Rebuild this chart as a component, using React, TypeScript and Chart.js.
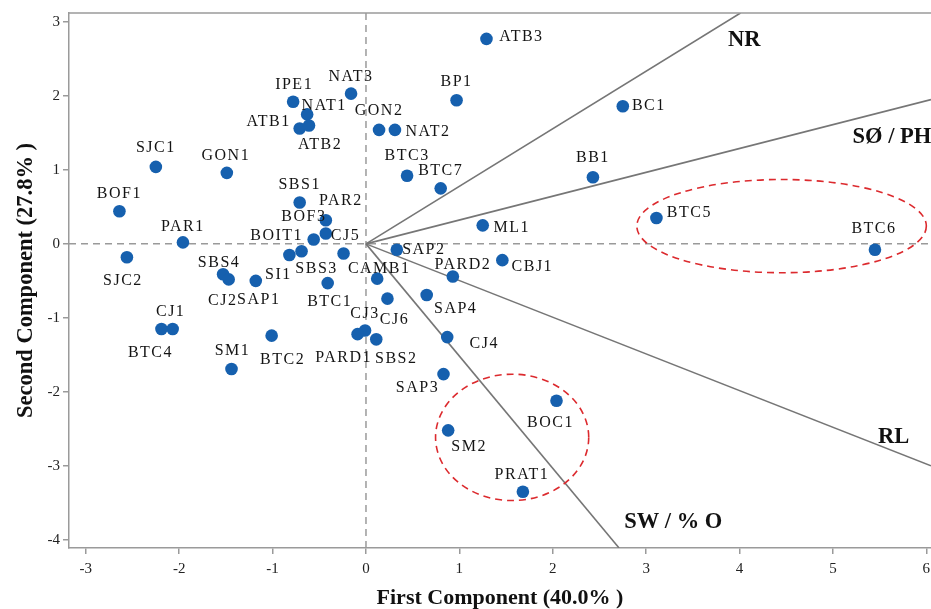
import React, { useEffect, useRef } from "react";
import { Chart, registerables } from "chart.js";

Chart.register(...registerables);

// ---------- data ----------
const SAMPLE_NAMES = [
  "ATB3", "IPE1", "NAT3", "BP1", "NAT1", "BC1", "ATB1", "ATB2", "GON2", "NAT2",
  "SJC1", "GON1", "BTC3", "BTC7", "BB1", "BOF1", "SBS1", "PAR2", "BOF3", "CJ5",
  "BOIT1", "SBS3", "SI1", "SAP1", "SBS4", "CJ2", "BTC5", "BTC6", "PAR1", "ML1",
  "SAP2", "SJC2", "CAMB1", "PARD2", "CBJ1", "BTC1", "SAP4", "CJ1", "BTC4", "CJ3",
  "PARD1", "CJ6", "SM1", "BTC2", "SBS2", "CJ4", "SAP3", "BOC1", "SM2", "PRAT1",
];
const PC1 = [
  1.29, -0.78, -0.16, 0.97, -0.63, 2.75, -0.71, -0.61, 0.14, 0.31,
  -2.25, -1.49, 0.44, 0.8, 2.43, -2.64, -0.71, -0.43, -0.43, -0.24,
  -0.56, -0.69, -0.82, -1.18, -1.53, -1.47, 3.11, 5.45, -1.96, 1.25,
  0.33, -2.56, 0.12, 0.93, 1.46, -0.41, 0.65, -2.07, -2.19, -0.01,
  -0.09, 0.23, -1.44, -1.01, 0.11, 0.87, 0.83, 2.04, 0.88, 1.68,
];
const PC2 = [
  2.77, 1.92, 2.03, 1.94, 1.75, 1.86, 1.56, 1.6, 1.54, 1.54,
  1.04, 0.96, 0.92, 0.75, 0.9, 0.44, 0.56, 0.32, 0.14, -0.13,
  0.06, -0.1, -0.15, -0.5, -0.41, -0.48, 0.35, -0.08, 0.02, 0.25,
  -0.08, -0.18, -0.47, -0.44, -0.22, -0.53, -0.69, -1.15, -1.15, -1.17,
  -1.22, -0.74, -1.69, -1.24, -1.29, -1.26, -1.76, -2.12, -2.52, -3.35,
];

const X_TICKS = [-3, -2, -1, 0, 1, 2, 3, 4, 5, 6];
const Y_TICKS = [-4, -3, -2, -1, 0, 1, 2, 3];
const X_MIN = -3.18;
const X_MAX = 6.05;
const Y_MIN = -4.11;
const Y_MAX = 3.12;

const VECTOR_NAMES = ["NR", "SØ / PH", "RL", "SW / % O"];
const VECTOR_X = [4.01, 6.05, 6.05, 2.71];
const VECTOR_Y = [3.12, 1.95, -3.0, -4.11];

// group ellipses (centre and semi-axes, data units)
const GROUP_CX = [4.45, 1.565];
const GROUP_CY = [0.24, -2.615];
const GROUP_RX = [1.55, 0.82];
const GROUP_RY = [0.63, 0.854];

const X_TITLE = "First Component (40.0% )";
const Y_TITLE = "Second Component (27.8% )";

// ---------- layout (label placement) ----------
const LABEL_OFFSETS: Record<string, [number, number]> = {
  ATB3: [35, -2], IPE1: [1, -17], NAT3: [0, -17], BP1: [0, -19], NAT1: [17, -9],
  BC1: [26, 0], ATB1: [-31, -7], ATB2: [11, 19], GON2: [0, -19], NAT2: [33, 2],
  SJC1: [0, -19], GON1: [-1, -17], BTC3: [0, -20], BTC7: [0, -18], BB1: [0, -19],
  BOF1: [0, -18], SBS1: [0, -18], PAR2: [15, -19], BOF3: [-22, -17], CJ5: [2, -18],
  BOIT1: [-37, -4], SBS3: [15, 18], SI1: [-11, 20], SAP1: [3, 19], SBS4: [-4, -11],
  CJ2: [-6, 21], BTC5: [33, -5], BTC6: [-1, -21], PAR1: [0, -16], ML1: [29, 2],
  SAP2: [27, 0], SJC2: [-4, 24], CAMB1: [2, -10], PARD2: [10, -12], CBJ1: [30, 7],
  BTC1: [2, 19], SAP4: [29, 14], CJ1: [-2, -17], BTC4: [-11, 24], CJ3: [0, -17],
  PARD1: [-14, 24], CJ6: [7, 21], SM1: [1, -18], BTC2: [11, 24], SBS2: [20, 19],
  CJ4: [37, 7], SAP3: [-26, 14], BOC1: [-6, 22], SM2: [21, 16], PRAT1: [-1, -17],
};
// vector label anchors in data units, with alignment
const VECTOR_LABEL_POS: [number, number, CanvasTextAlign][] = [
  [4.05, 2.755, "center"],
  [5.21, 1.445, "left"],
  [5.65, -2.61, "center"],
  [3.29, -3.76, "center"],
];

const SERIF = '"Liberation Serif", "Times New Roman", serif';
const DOT_COLOR = "#1660ae";
const AXIS_COLOR = "#9a9a9a";

const overlayPlugin = {
  id: "overlay",
  afterDatasetsDraw(chart: any) {
    const { ctx, chartArea, scales } = chart;
    const xs = scales.x;
    const ys = scales.y;
    ctx.save();
    // ellipses
    ctx.beginPath();
    ctx.rect(chartArea.left, chartArea.top, chartArea.right - chartArea.left, chartArea.bottom - chartArea.top);
    ctx.clip();
    ctx.strokeStyle = "#dc2a2e";
    ctx.lineWidth = 1.6;
    ctx.setLineDash([7, 5]);
    for (let i = 0; i < GROUP_CX.length; i++) {
      const cx = xs.getPixelForValue(GROUP_CX[i]);
      const cy = ys.getPixelForValue(GROUP_CY[i]);
      const rx = Math.abs(xs.getPixelForValue(GROUP_CX[i] + GROUP_RX[i]) - cx);
      const ry = Math.abs(ys.getPixelForValue(GROUP_CY[i] + GROUP_RY[i]) - cy);
      ctx.beginPath();
      ctx.ellipse(cx, cy, rx, ry, 0, 0, Math.PI * 2);
      ctx.stroke();
    }
    ctx.restore();

    ctx.save();
    // sample labels
    ctx.font = `16px ${SERIF}`;
    try { (ctx as any).letterSpacing = "1.5px"; } catch (e) {}
    ctx.fillStyle = "#141414";
    ctx.textAlign = "center";
    ctx.textBaseline = "middle";
    SAMPLE_NAMES.forEach((name, i) => {
      const px = xs.getPixelForValue(PC1[i]);
      const py = ys.getPixelForValue(PC2[i]);
      const off = LABEL_OFFSETS[name] || [0, -18];
      ctx.fillText(name, px + off[0], py + off[1]);
    });
    try { (ctx as any).letterSpacing = "0px"; } catch (e) {}
    // vector labels
    ctx.font = `bold 22.5px ${SERIF}`;
    ctx.fillStyle = "#111";
    VECTOR_NAMES.forEach((name, i) => {
      const p = VECTOR_LABEL_POS[i];
      ctx.textAlign = p[2];
      ctx.fillText(name, xs.getPixelForValue(p[0]), ys.getPixelForValue(p[1]));
    });
    ctx.restore();
  },
  afterDraw(chart: any) {
    const { ctx, chartArea } = chart;
    ctx.save();
    ctx.strokeStyle = AXIS_COLOR;
    ctx.lineWidth = 1.5;
    ctx.beginPath();
    ctx.moveTo(chartArea.left, chartArea.top);
    ctx.lineTo(chartArea.right, chartArea.top);
    ctx.stroke();
    ctx.restore();
  },
};

export default function App() {
  const canvasRef = useRef<HTMLCanvasElement | null>(null);

  useEffect(() => {
    if (!canvasRef.current) return;
    const points = PC1.map((x, i) => ({ x, y: PC2[i] }));
    const vectorSets = VECTOR_NAMES.map((name, i) => ({
      label: name,
      type: "line" as const,
      data: [
        { x: 0, y: 0 },
        { x: VECTOR_X[i], y: VECTOR_Y[i] },
      ],
      borderColor: "#767676",
      borderWidth: 1.6,
      pointRadius: 0,
      showLine: true,
      fill: false,
      order: 2,
    }));
    const chart = new Chart(canvasRef.current, {
      type: "scatter",
      data: {
        datasets: [
          {
            label: "samples",
            data: points,
            backgroundColor: DOT_COLOR,
            borderColor: DOT_COLOR,
            borderWidth: 0,
            pointRadius: 6.3,
            order: 0,
          } as any,
          ...vectorSets,
          {
            label: "zero-x",
            type: "line",
            data: [
              { x: X_MIN, y: 0 },
              { x: X_MAX, y: 0 },
            ],
            borderColor: "#9a9a9a",
            borderWidth: 1.5,
            borderDash: [7, 5],
            pointRadius: 0,
            showLine: true,
            order: 3,
          } as any,
          {
            label: "zero-y",
            type: "line",
            data: [
              { x: 0, y: Y_MIN },
              { x: 0, y: Y_MAX },
            ],
            borderColor: "#9a9a9a",
            borderWidth: 1.5,
            borderDash: [7, 5],
            pointRadius: 0,
            showLine: true,
            order: 3,
          } as any,
        ],
      },
      options: {
        responsive: false,
        animation: false,
        devicePixelRatio: 1,
        layout: { autoPadding: false, padding: { top: 13, right: 0, bottom: 0, left: 0 } },
        plugins: {
          legend: { display: false },
          tooltip: { enabled: false },
        },
        scales: {
          x: {
            type: "linear",
            min: X_MIN,
            max: X_MAX,
            afterBuildTicks: (s: any) => {
              s.ticks = X_TICKS.map((v) => ({ value: v }));
            },
            afterFit: (s: any) => {
              s.height = 61;
              s.paddingLeft = 0;
              s.paddingRight = 0;
            },
            grid: {
              drawOnChartArea: false,
              drawTicks: true,
              tickLength: 6,
              color: AXIS_COLOR,
              lineWidth: 1.5,
            },
            border: { display: true, color: AXIS_COLOR, width: 1.5 },
            ticks: {
              font: { family: SERIF, size: 15 },
              color: "#222",
              padding: 6,
              maxRotation: 0,
              autoSkip: false,
            },
            title: {
              display: true,
              text: X_TITLE,
              font: { family: SERIF, size: 22, weight: "bold", lineHeight: 1 },
              color: "#111",
              padding: { top: 0, bottom: 0 },
            },
          },
          y: {
            type: "linear",
            min: Y_MIN,
            max: Y_MAX,
            afterBuildTicks: (s: any) => {
              s.ticks = Y_TICKS.map((v) => ({ value: v }));
            },
            afterFit: (s: any) => {
              s.width = 69;
              s.paddingTop = 0;
              s.paddingBottom = 0;
            },
            grid: {
              drawOnChartArea: false,
              drawTicks: true,
              tickLength: 6,
              color: AXIS_COLOR,
              lineWidth: 1.5,
            },
            border: { display: true, color: AXIS_COLOR, width: 1.5 },
            ticks: {
              font: { family: SERIF, size: 15 },
              color: "#222",
              padding: 3,
              autoSkip: false,
            },
            title: {
              display: true,
              text: Y_TITLE,
              font: { family: SERIF, size: 22.5, weight: "bold", lineHeight: 1 },
              color: "#111",
              padding: { top: 15, bottom: 0 },
            },
          },
        },
      } as any,
      plugins: [overlayPlugin],
    });
    return () => chart.destroy();
  }, []);

  return (
    <div style={{ position: "fixed", left: 0, top: 0, width: 931, height: 609, background: "#fff" }}>
      <canvas ref={canvasRef} width={931} height={609} style={{ display: "block", width: 931, height: 609 }} />
    </div>
  );
}
